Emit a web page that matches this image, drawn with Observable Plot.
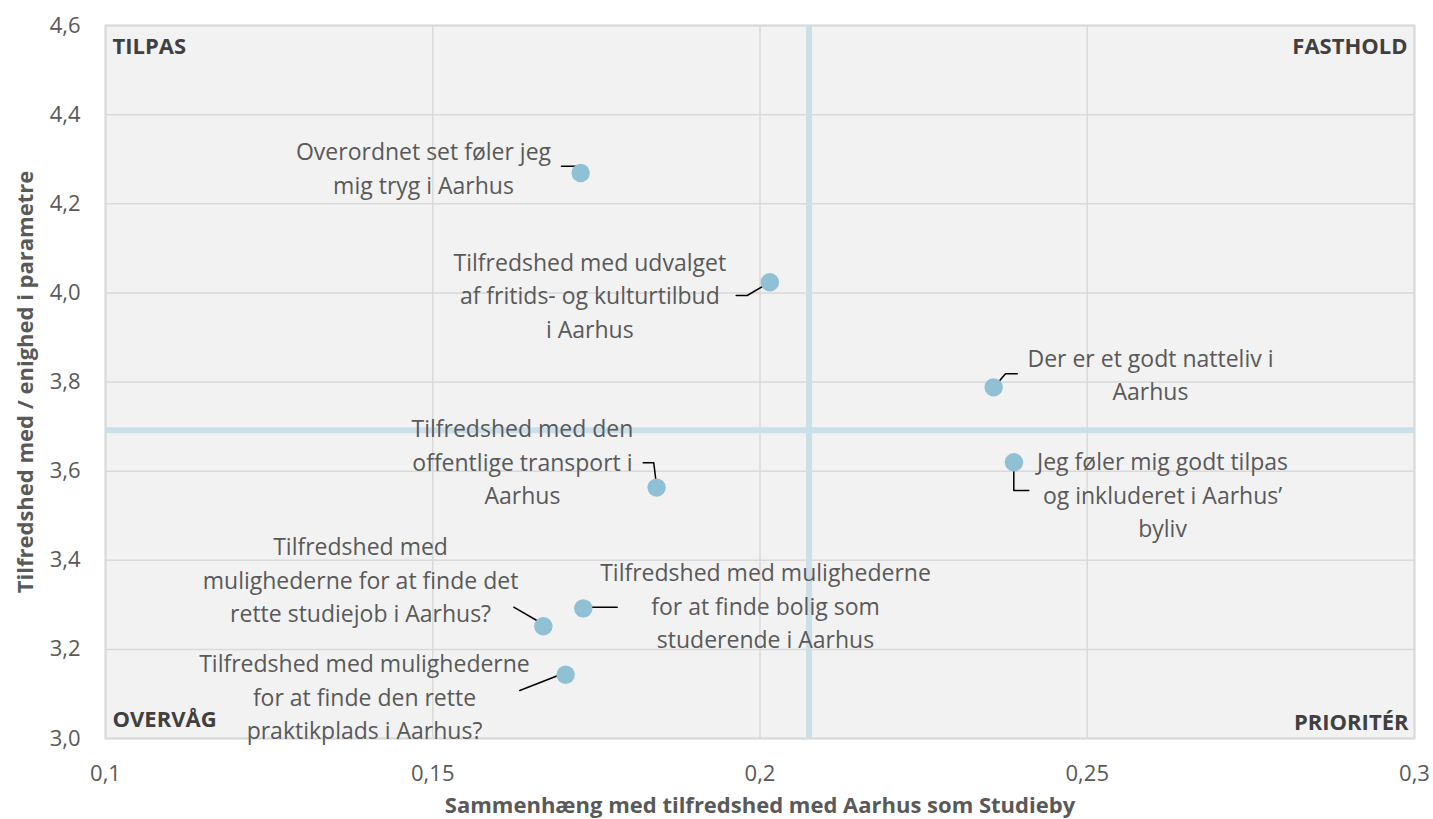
<!DOCTYPE html>
<html>
<head>
<meta charset="utf-8">
<script src="https://cdn.jsdelivr.net/npm/d3@7"></script>
<script src="https://cdn.jsdelivr.net/npm/@observablehq/plot@0.6"></script>
<style>
  html, body { margin: 0; padding: 0; background: #ffffff; }
  svg { display: block; }
</style>
</head>
<body>
<div id="chart"></div>
<script>
// ---- data ----
const ids = [1, 2, 3, 4, 5, 6, 7, 8];
const correlation = [0.1726, 0.2015, 0.2357, 0.2388, 0.1842, 0.1730, 0.1669, 0.1703];
const satisfaction = [4.269, 4.024, 3.788, 3.620, 3.563, 3.292, 3.252, 3.143];
const labels = [
  "Overordnet set føler jeg\nmig tryg i Aarhus",
  "Tilfredshed med udvalget\naf fritids- og kulturtilbud\ni Aarhus",
  "Der er et godt natteliv i\nAarhus",
  "Jeg føler mig godt tilpas\nog inkluderet i Aarhus’\nbyliv",
  "Tilfredshed med den\noffentlige transport i\nAarhus",
  "Tilfredshed med mulighederne\nfor at finde bolig som\nstuderende i Aarhus",
  "Tilfredshed med\nmulighederne for at finde det\nrette studiejob i Aarhus?",
  "Tilfredshed med mulighederne\nfor at finde den rette\npraktikplads i Aarhus?"
];
// label block centres (data units)
const labelX = [0.14859, 0.17400, 0.25966, 0.26150, 0.16370, 0.20084, 0.13897, 0.13957];
const labelY = [4.2843, 3.9982, 3.8209, 3.5505, 3.6245, 3.3014, 3.3597, 3.0972];
// leader lines (data units), one polyline per label
const leaderId = [1, 1, 1, 2, 2, 2, 3, 3, 3, 4, 4, 4, 5, 5, 5, 6, 6, 7, 7, 8, 8];
const leaderX = [0.16967, 0.17181, 0.17258, 0.19636, 0.19804, 0.20150, 0.23930, 0.23751, 0.23598,
                 0.23878, 0.23878, 0.24107, 0.18215, 0.18377, 0.18423, 0.17319, 0.17818,
                 0.16238, 0.16636, 0.16330, 0.17003];
const leaderY = [4.2842, 4.2842, 4.2708, 3.9941, 3.9941, 4.0239, 3.8184, 3.8184, 3.7921,
                 3.6200, 3.5565, 3.5565, 3.6186, 3.6186, 3.5627, 3.2946, 3.2946,
                 3.2946, 3.2609, 3.1076, 3.1464];
const xMid = 0.2075;
const yMid = 3.692;
const xTicks = [0.1, 0.15, 0.2, 0.25, 0.3];
const yTicks = [3.0, 3.2, 3.4, 3.6, 3.8, 4.0, 4.2, 4.4, 4.6];
const quadrants = ["TILPAS", "FASTHOLD", "OVERVÅG", "PRIORITÉR"];
const xTitle = "Sammenhæng med tilfredshed med Aarhus som Studieby";
const yTitle = "Tilfredshed med / enighed i parametre";

// ---- tables ----
const points = ids.map((id, i) => ({id, x: correlation[i], y: satisfaction[i]}));
const labelRows = ids.map((id, i) => ({id, x: labelX[i], y: labelY[i], text: labels[i]}));
const leaders = leaderId.map((id, i) => ({id, x: leaderX[i], y: leaderY[i]}));

const textColor = "#595959";
const font = "'Open Sans', 'Segoe UI', sans-serif";

const chart = Plot.plot({
  width: 1433,
  height: 819,
  marginLeft: 105,
  marginRight: 19,
  marginTop: 25,
  marginBottom: 81,
  style: {fontFamily: font, background: "#ffffff", color: textColor},
  x: {domain: [0.1, 0.3]},
  y: {domain: [3.0, 4.6]},
  marks: [
    Plot.frame({fill: "#f2f2f2"}),
    Plot.gridX(xTicks, {stroke: "#d9d9d9", strokeOpacity: 1, strokeWidth: 1.5}),
    Plot.gridY(yTicks, {stroke: "#d9d9d9", strokeOpacity: 1, strokeWidth: 1.5}),
    Plot.frame({stroke: "#d9d9d9", strokeWidth: 2}),
    Plot.ruleX([xMid], {stroke: "#cbdfe8", strokeWidth: 6}),
    Plot.ruleY([yMid], {stroke: "#cbdfe8", strokeWidth: 6}),
    Plot.line(leaders, {x: "x", y: "y", z: "id", stroke: "#000000", strokeWidth: 1.5}),
    Plot.dot(points, {x: "x", y: "y", r: 9.2, fill: "#8fc0d4", stroke: "none"}),
    Plot.text(labelRows, {x: "x", y: "y", text: "text", fontSize: 23, lineHeight: 1.457,
      fill: textColor, textAnchor: "middle", lineAnchor: "middle"}),
    Plot.text([quadrants[0]], {frameAnchor: "top-left", dx: 7, dy: 21, lineAnchor: "middle",
      fontSize: 22, fontWeight: "bold", fill: "#404040"}),
    Plot.text([quadrants[1]], {frameAnchor: "top-right", dx: -7, dy: 21, lineAnchor: "middle",
      fontSize: 22, fontWeight: "bold", fill: "#404040"}),
    Plot.text([quadrants[2]], {frameAnchor: "bottom-left", dx: 7, dy: -19, lineAnchor: "middle",
      fontSize: 22, fontWeight: "bold", fill: "#404040"}),
    Plot.text([quadrants[3]], {frameAnchor: "bottom-right", dx: -6, dy: -16, lineAnchor: "middle",
      fontSize: 22, fontWeight: "bold", fill: "#404040"}),
    Plot.axisX(xTicks, {tickSize: 0, tickPadding: 27, fontSize: 22, fill: textColor,
      tickFormat: d => String(d).replace(".", ","), label: null}),
    Plot.axisY(yTicks, {tickSize: 0, tickPadding: 25, fontSize: 22, fill: textColor,
      tickFormat: d => d.toFixed(1).replace(".", ","), label: null}),
    Plot.text([xTitle], {frameAnchor: "bottom", dy: 67, lineAnchor: "middle", textAnchor: "middle",
      fontSize: 22, fontWeight: "bold", fill: textColor}),
    Plot.text([yTitle], {frameAnchor: "left", dx: -80, rotate: -90, lineAnchor: "middle",
      textAnchor: "middle", fontSize: 22, fontWeight: "bold", fill: textColor})
  ]
});
document.getElementById("chart").appendChild(chart);
</script>
</body>
</html>
